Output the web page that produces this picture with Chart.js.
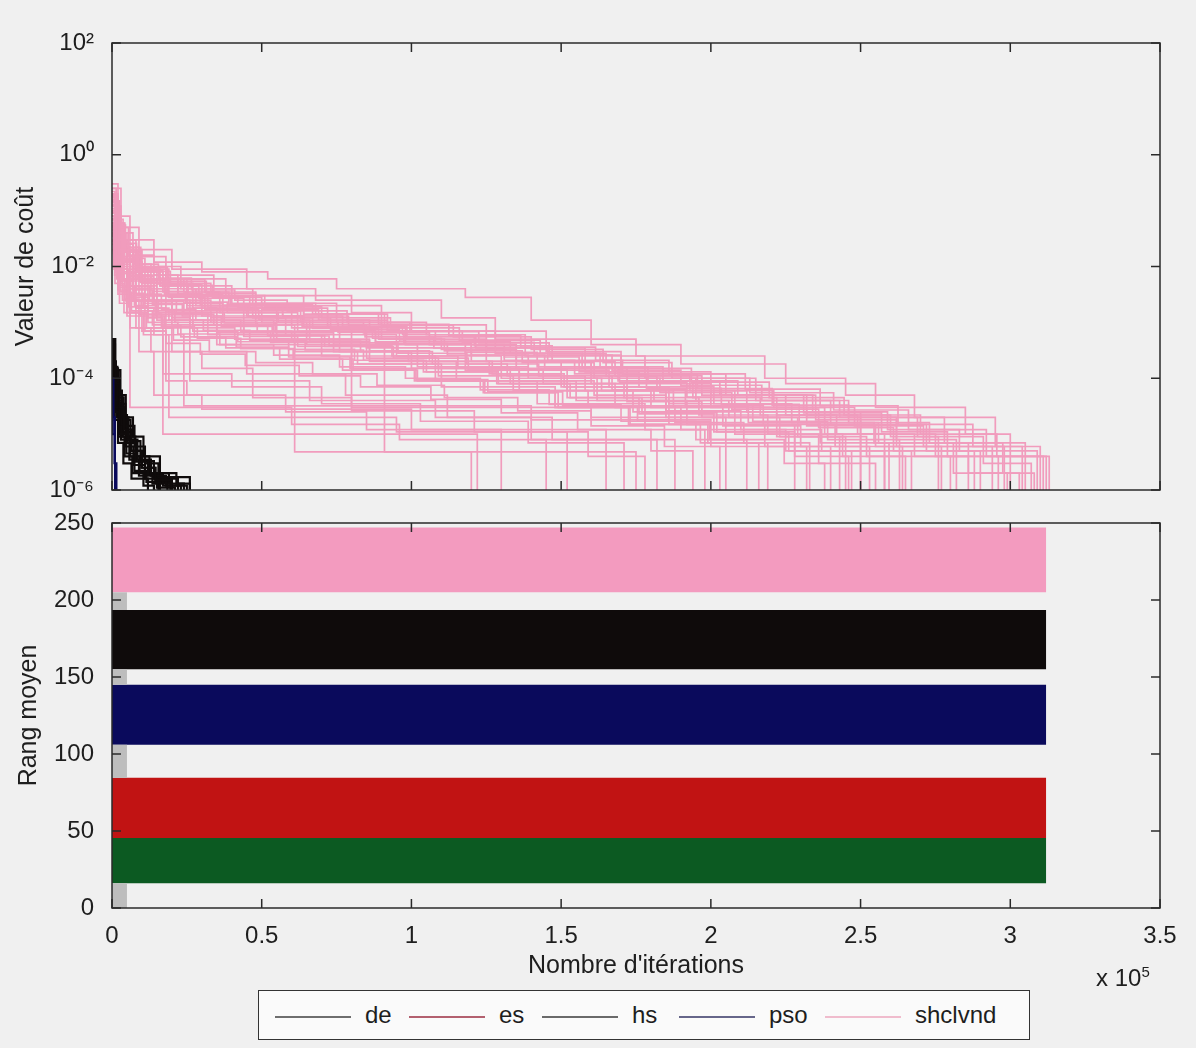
<!DOCTYPE html>
<html>
<head>
<meta charset="utf-8">
<script src="https://cdn.jsdelivr.net/npm/chart.js@4.4.1/dist/chart.umd.min.js"></script>
<style>
body { margin:0; background:#f0f0f0; width:1196px; height:1048px; position:relative; overflow:hidden;
  font-family:'Liberation Sans',Arial,sans-serif; color:#1e1e1e; }
#costChart { position:absolute; left:0; top:0; }
#rankChart { position:absolute; left:0; top:483px; }
#expo { position:absolute; left:1096px; top:963px; font-size:24px; }
#expo sup { font-size:15px; }
#legend { position:absolute; left:258px; top:990px; width:770px; height:48px; border:1.5px solid #333; background:#fafafa; }
.item { position:absolute; top:0; height:48px; line-height:48px; font-size:24px; white-space:nowrap; }
.item i { display:inline-block; width:76px; height:2px; vertical-align:middle; margin-right:14px; }
</style>
</head>
<body>
<canvas id="costChart" width="1196" height="530"></canvas>
<canvas id="rankChart" width="1196" height="512"></canvas>
<div id="expo">x 10<sup>5</sup></div>
<div id="legend"></div>
<script>
// axes
var xTicks = [0, 50000, 100000, 150000, 200000, 250000, 300000, 350000];
var xTickLabels = ['0', '0.5', '1', '1.5', '2', '2.5', '3', '3.5'];
var costTicks = [1e-6, 1e-4, 1e-2, 1, 1e2];
var costTickLabels = ['10\u207B\u2076', '10\u207B\u2074', '10\u207B\u00B2', '10\u2070', '10\u00B2'];
var rankTicks = [0, 50, 100, 150, 200, 250];

// legend
var legendNames = ['de', 'es', 'hs', 'pso', 'shclvnd'];
var legendColors = ['#6e6e6e', '#b3606f', '#6a6a6a', '#66668a', '#f0bccd'];
var legendX = [16, 150, 283, 420, 566];

// cost runs, [iterations, cost]
var shclvndRuns = [
  [[0,0.3],[2000,0.08],[6000,0.03],[14000,0.012],[30000,0.008],[52000,0.006],[75000,0.004],[118000,0.0028],[140000,0.0011],[160000,0.0004],[190000,0.00018],[225000,0.00008],[255000,0.00003],[285000,0.00001],[300000,0.000004],[313000,0.000001]],
  [[0,0.25],[3000,0.05],[9000,0.02],[20000,0.009],[45000,0.004],[68000,0.0025],[110000,0.0012],[128000,0.0005],[175000,0.00025],[218000,0.0001],[245000,0.00005],[268000,0.00002],[295000,0.000006],[310000,0.000001]],
  [[0,0.15],[2500,0.04],[7000,0.015],[18000,0.006],[38000,0.003],[80000,0.0015],[100000,0.0007],[145000,0.0003],[170000,0.00012],[205000,0.00005],[232000,0.00002],[262000,0.000008],[282000,0.000001]],
  [[0,0.12],[1500,0.03],[5000,0.01],[12000,0.004],[28000,0.002],[50000,0.001],[90000,0.0005],[125000,0.0002],[160000,0.00008],[200000,0.00003],[238000,0.00001],[258000,0.000001]],
  [[0,0.09],[2000,0.02],[8000,0.007],[22000,0.003],[42000,0.0018],[72000,0.0008],[98000,0.0004],[135000,0.00015],[172000,0.00006],[212000,0.000025],[250000,0.000001]],
  [[0,0.07],[1000,0.02],[4000,0.006],[15000,0.0025],[33000,0.0012],[58000,0.0006],[95000,0.00025],[130000,0.0001],[162000,0.00004],[192000,0.000015],[228000,0.000001]],
  [[0,0.05],[3000,0.012],[10000,0.005],[25000,0.002],[48000,0.0009],[85000,0.00035],[118000,0.00014],[152000,0.00006],[185000,0.00002],[205000,0.000001]],
  [[0,0.2],[2000,0.03],[6000,0.008],[17000,0.0035],[36000,0.0015],[62000,0.0007],[88000,0.00045],[120000,0.0002],[150000,0.0001],[195000,0.00004],[240000,0.000015],[272000,0.000005],[290000,0.000001]],
  [[0,0.1],[2500,0.025],[7000,0.009],[16000,0.0045],[40000,0.0022],[75000,0.001],[105000,0.0006],[138000,0.00025],[178000,0.0001],[215000,0.00004],[246000,0.00002],[278000,0.000007],[305000,0.000001]],
  [[0,0.06],[1500,0.015],[5000,0.004],[12000,0.0012],[17000,0.00001],[122000,0.000001]],
  [[0,0.04],[2000,0.01],[6000,0.003],[20000,0.0009],[61000,0.0000048],[120000,0.000001]],
  [[0,0.08],[3000,0.02],[9000,0.006],[25000,0.0018],[35000,0.0004],[91000,0.0000048],[175000,0.000001]],
  [[0,0.03],[2000,0.006],[6000,0.00003],[60000,0.000015],[96000,0.000008],[145000,0.000001]],
  [[0,0.15],[1500,0.04],[4000,0.012],[10000,0.005],[27000,0.0018],[60000,0.0008],[80000,0.00003],[160000,0.00002],[250000,0.000001]],
  [[0,0.02],[1000,0.005],[4000,0.0015],[9000,0.0003],[14000,0.00005],[30000,0.000028],[100000,0.000012],[165000,0.000001]],
  [[0,0.1],[2000,0.02],[5000,0.007],[13000,0.003],[30000,0.0013],[55000,0.0005],[80000,0.00018],[110000,0.00007],[148000,0.00003],[190000,0.000012],[225000,0.000005],[267000,0.000001]],
  [[0,0.12],[3000,0.03],[8000,0.01],[23000,0.004],[47000,0.002],[90000,0.0009],[125000,0.00035],[158000,0.00013],[200000,0.00005],[235000,0.000018],[262000,0.000006],[298000,0.000001]],
  [[0,0.05],[1500,0.012],[5000,0.0045],[15000,0.0015],[32000,0.0006],[70000,0.00025],[108000,0.00009],[142000,0.000035],[178000,0.000012],[198000,0.000001]],
  [[0,0.07],[2000,0.018],[6000,0.0055],[14000,0.0022],[37000,0.001],[65000,0.0004],[102000,0.00016],[133000,0.00008],[168000,0.00003],[208000,0.00001],[236000,0.000003],[255000,0.000001]],
  [[0,0.03],[1000,0.008],[3500,0.0025],[8000,0.0008],[20000,0.0003],[45000,0.00012],[78000,0.00005],[112000,0.00002],[140000,0.000008],[182000,0.000001]],
  [[0,0.18],[2000,0.05],[5500,0.016],[14000,0.007],[34000,0.003],[64000,0.0014],[92000,0.0007],[128000,0.00028],[165000,0.00011],[197000,0.00005],[225000,0.000022],[260000,0.000009],[276000,0.000001]],
  [[0,0.09],[1500,0.02],[5000,0.0065],[11000,0.0025],[26000,0.0011],[54000,0.0005],[86000,0.0002],[115000,0.00009],[155000,0.00004],[186000,0.000015],[218000,0.000006],[240000,0.000001]],
  [[0,0.04],[2000,0.009],[5000,0.0025],[11000,0.0007],[18000,0.00009],[25000,0.00005],[58000,0.000025],[85000,0.000012],[130000,0.000001]],
  [[0,0.06],[2500,0.014],[7000,0.004],[18000,0.0016],[44000,0.0007],[76000,0.0003],[100000,0.00015],[136000,0.00006],[174000,0.000025],[222000,0.000009],[243000,0.000001]],
  [[0,0.22],[1000,0.06],[3000,0.025],[7000,0.011],[13000,0.006],[24000,0.0035],[39000,0.0021],[57000,0.0013],[79000,0.0009],[97000,0.0006],[121000,0.00038],[147000,0.0002],[168000,0.00011],[193000,0.00006],[221000,0.00003],[248000,0.000014],[271000,0.000006],[294000,0.000001]],
  [[0,0.11],[1500,0.035],[4000,0.013],[9000,0.0055],[19000,0.0028],[31000,0.0017],[49000,0.0011],[66000,0.0007],[88000,0.00042],[112000,0.00026],[139000,0.00014],[166000,0.00007],[186000,0.000035],[214000,0.000017],[239000,0.000008],[263000,0.000001]],
  [[0,0.05],[800,0.017],[2500,0.006],[6000,0.0028],[12000,0.0016],[21000,0.001],[35000,0.00065],[53000,0.00044],[74000,0.0003],[99000,0.0002],[126000,0.00012],[151000,0.00007],[181000,0.00004],[206000,0.00002],[229000,0.000009],[252000,0.000004],[280000,0.000001]],
  [[0,0.14],[1200,0.045],[3500,0.018],[8000,0.008],[16000,0.0045],[29000,0.0027],[44000,0.0016],[63000,0.001],[84000,0.00065],[106000,0.0004],[131000,0.00024],[156000,0.00013],[176000,0.00007],[201000,0.000035],[227000,0.000016],[256000,0.000007],[286000,0.000002],[303000,0.000001]],
  [[0,0.035],[1000,0.011],[3000,0.0045],[7500,0.002],[15000,0.0011],[27000,0.0007],[42000,0.00045],[61000,0.0003],[82000,0.00018],[109000,0.00011],[134000,0.00006],[159000,0.000032],[188000,0.000016],[211000,0.000007],[233000,0.000001]],
  [[0,0.19],[1800,0.055],[4500,0.02],[10000,0.009],[19000,0.005],[33000,0.003],[51000,0.0019],[70000,0.0012],[93000,0.0008],[116000,0.00048],[143000,0.00028],[163000,0.00016],[184000,0.00009],[209000,0.00005],[234000,0.000025],[259000,0.000012],[283000,0.000005],[309000,0.000001]],
  [[0,0.08],[700,0.025],[2200,0.009],[5500,0.004],[11000,0.0022],[20000,0.0014],[34000,0.0009],[52000,0.00058],[71000,0.00037],[94000,0.00023],[119000,0.00014],[144000,0.00008],[171000,0.000045],[196000,0.000022],[219000,0.00001],[244000,0.000004],[265000,0.000001]],
  [[0,0.028],[900,0.009],[2700,0.0035],[6500,0.0016],[13500,0.0009],[23000,0.00055],[38000,0.00035],[56000,0.00022],[77000,0.00014],[101000,0.00009],[124000,0.000055],[149000,0.00003],[173000,0.000015],[199000,0.000007],[216000,0.000001]],
  [[0,0.16],[1300,0.05],[3800,0.019],[8500,0.0085],[17000,0.0048],[30000,0.0029],[46000,0.0018],[64000,0.0011],[86000,0.0007],[108000,0.00045],[133000,0.00028],[157000,0.00016],[179000,0.00009],[203000,0.00005],[231000,0.000024],[257000,0.000011],[279000,0.000004],[296000,0.000001]],
  [[0,0.045],[1100,0.014],[3200,0.0055],[7000,0.0024],[14500,0.0013],[26000,0.0008],[41000,0.0005],[59000,0.00033],[81000,0.00021],[104000,0.00013],[129000,0.00008],[153000,0.000045],[177000,0.000024],[202000,0.000011],[226000,0.000005],[247000,0.000001]],
  [[0,0.1],[1600,0.03],[4200,0.012],[9500,0.0052],[18500,0.0029],[32000,0.0018],[47000,0.0012],[67000,0.00078],[89000,0.0005],[111000,0.00031],[137000,0.00019],[161000,0.0001],[183000,0.000055],[207000,0.000028],[236000,0.000013],[261000,0.000005],[288000,0.000001]],
  [[0,0.06],[1000,0.018],[3000,0.006],[8000,0.0018],[14000,0.0006],[19000,0.00002],[95000,0.000011],[152000,0.000001]],
  [[0,0.09],[1200,0.025],[3600,0.008],[9000,0.003],[20000,0.0012],[26000,0.00009],[66000,0.00004],[108000,0.00002],[147000,0.000008],[188000,0.000001]],
  [[0,0.025],[900,0.007],[2500,0.0022],[6000,0.0008],[13000,0.0003],[30000,0.00015],[47000,0.000045],[80000,0.000026],[121000,0.000011],[159000,0.000004],[178000,0.000001]],
  [[0,0.13],[2000,0.04],[5000,0.014],[11000,0.006],[22000,0.0032],[37000,0.002],[55000,0.0012],[73000,0.00075],[96000,0.00046],[118000,0.00029],[142000,0.00016],[169000,0.00009],[194000,0.000045],[222000,0.000022],[249000,0.00001],[275000,0.000004],[300000,0.000001]],
  [[0,0.07],[1100,0.02],[3400,0.0075],[8000,0.0032],[16500,0.0017],[28000,0.0011],[43000,0.0007],[60000,0.00046],[83000,0.0003],[107000,0.00018],[132000,0.00011],[158000,0.00006],[180000,0.00003],[204000,0.000014],[230000,0.000006],[253000,0.000001]],
  [[0,0.2],[1500,0.06],[4000,0.022],[9000,0.01],[18000,0.0058],[31000,0.0035],[48000,0.0022],[68000,0.0014],[91000,0.00088],[114000,0.00055],[140000,0.00033],[164000,0.00019],[187000,0.0001],[213000,0.000055],[241000,0.000027],[266000,0.000012],[292000,0.000004],[312000,0.000001]],
  [[0,0.038],[800,0.012],[2300,0.0042],[5500,0.0019],[12000,0.001],[22000,0.00062],[36000,0.0004],[54000,0.00026],[76000,0.00016],[98000,0.0001],[123000,0.000062],[146000,0.000034],[170000,0.000017],[195000,0.000008],[212000,0.000001]],
  [[0,0.12],[1400,0.035],[3900,0.013],[8800,0.0058],[17500,0.0032],[29500,0.002],[45000,0.0013],[64000,0.00082],[87000,0.00052],[110000,0.00033],[135000,0.0002],[160000,0.00011],[182000,0.00006],[208000,0.00003],[232000,0.000014],[255000,0.000006],[277000,0.000001]],
  [[0,0.055],[1000,0.016],[3000,0.0058],[7200,0.0025],[15500,0.0014],[27000,0.00088],[44000,0.00056],[62000,0.00037],[85000,0.00023],[109000,0.00015],[136000,0.00009],[161000,0.00005],[185000,0.000026],[210000,0.000012],[237000,0.000005],[258000,0.000001]],
  [[0,0.17],[1700,0.05],[4400,0.018],[9800,0.0082],[19500,0.0046],[33500,0.0028],[50000,0.0017],[69000,0.0011],[92000,0.0007],[117000,0.00044],[141000,0.00026],[167000,0.00014],[190000,0.000075],[217000,0.00004],[243000,0.00002],[269000,0.000009],[291000,0.000003],[307000,0.000001]],
  [[0,0.03],[600,0.01],[2000,0.0038],[5000,0.0015],[10500,0.0006],[17000,0.00012],[40000,0.00007],[70000,0.000035],[103000,0.000017],[139000,0.000007],[171000,0.000001]],
  [[0,0.1],[900,0.03],[2600,0.011],[6200,0.0045],[12500,0.0024],[21500,0.0015],[33000,0.001],[48500,0.00068],[66000,0.00046],[86000,0.00031],[106000,0.0002],[127000,0.00012],[150000,0.00007],[172000,0.000038],[197000,0.00002],[223000,0.000009],[245000,0.000001]],
  [[0,0.06],[700,0.02],[2100,0.0075],[5200,0.0033],[10500,0.0018],[19000,0.0011],[30500,0.00072],[46000,0.00048],[64500,0.00032],[84000,0.00021],[105000,0.00013],[128500,0.00008],[152000,0.000045],[176000,0.000023],[201000,0.000011],[228000,0.000004],[246000,0.000001]],
  [[0,0.14],[1100,0.042],[3100,0.015],[7300,0.0065],[14000,0.0036],[24500,0.0023],[38500,0.0015],[55500,0.001],[75500,0.00066],[97500,0.00042],[120000,0.00026],[144500,0.00015],[169500,0.000085],[192000,0.000046],[216500,0.000022],[242000,0.00001],[268000,0.000004],[286000,0.000001]],
  [[0,0.045],[600,0.015],[1900,0.0055],[4700,0.0024],[9700,0.0013],[17500,0.0008],[28500,0.00052],[43000,0.00034],[60500,0.00022],[80500,0.00014],[102000,0.00009],[124500,0.000055],[148000,0.00003],[172500,0.000015],[196500,0.000007],[219000,0.000001]],
  [[0,0.25],[1400,0.07],[3700,0.026],[8200,0.011],[15500,0.0062],[26500,0.0038],[41000,0.0025],[58500,0.0016],[78500,0.001],[99500,0.00068],[122500,0.00043],[146000,0.00026],[170000,0.00015],[193500,0.000085],[219500,0.000045],[244500,0.000022],[270000,0.00001],[295500,0.000004],[311000,0.000001]],
  [[0,0.08],[1000,0.024],[2900,0.009],[6800,0.0038],[13500,0.0021],[23500,0.0013],[36500,0.00085],[53500,0.00057],[72500,0.00038],[93500,0.00025],[115500,0.00016],[139000,0.0001],[163500,0.00006],[187500,0.000032],[212500,0.000016],[236500,0.000007],[259500,0.000001]],
  [[0,0.035],[800,0.01],[2400,0.0036],[5800,0.0015],[11500,0.0008],[20500,0.00048],[32500,0.0003],[48000,0.00019],[67000,0.00012],[88500,0.000075],[111000,0.000045],[135500,0.000026],[160000,0.000014],[184500,0.000006],[203000,0.000001]],
  [[0,0.18],[1200,0.055],[3300,0.02],[7700,0.0086],[15000,0.0049],[25500,0.003],[39500,0.002],[57000,0.0013],[77000,0.00085],[98500,0.00055],[121500,0.00035],[145500,0.00021],[170500,0.00012],[195500,0.000065],[220500,0.000033],[246000,0.000016],[273000,0.000007],[297500,0.000002],[308000,0.000001]],
  [[0,0.05],[500,0.017],[1600,0.006],[4300,0.0026],[9000,0.0014],[16500,0.00085],[27500,0.00055],[41500,0.00036],[59000,0.00024],[79500,0.00015],[101500,0.000095],[125500,0.000057],[150500,0.000032],[175500,0.000017],[199500,0.000008],[224500,0.000003],[238000,0.000001]],
  [[0,0.07],[1300,0.02],[4000,0.006],[10000,0.0018],[18000,0.0006],[24000,0.000032],[140000,0.000018],[200000,0.000006],[232000,0.000001]],
  [[0,0.12],[1500,0.036],[4100,0.013],[9300,0.0057],[18000,0.0032],[30000,0.002],[45500,0.0013],[63500,0.00085],[84500,0.00055],[107500,0.00035],[131000,0.00021],[154500,0.00012],[178500,0.000066],[203500,0.000034],[229500,0.000016],[254500,0.000007],[281000,0.000002],[299000,0.000001]],
  [[0,0.03],[700,0.009],[2000,0.0032],[5000,0.0013],[10000,0.0007],[18000,0.00042],[29500,0.00027],[44500,0.00017],[62500,0.00011],[83000,0.00007],[106500,0.000042],[130000,0.000024],[155500,0.000012],[180000,0.000005],[194000,0.000001]],
  [[0,0.09],[1000,0.027],[3000,0.01],[7000,0.0043],[14000,0.0024],[24000,0.0015],[37500,0.00098],[54500,0.00065],[74000,0.00043],[95500,0.00028],[118500,0.00018],[142500,0.00011],[167000,0.000062],[191500,0.000032],[217500,0.000015],[241500,0.000006],[264000,0.000001]],
  [[0,0.2],[1600,0.06],[4300,0.022],[9600,0.0095],[18500,0.0054],[31500,0.0033],[48000,0.0021],[67000,0.0014],[89000,0.00092],[112500,0.00058],[136500,0.00036],[161500,0.00021],[186000,0.00012],[211500,0.000064],[236500,0.000032],[262500,0.000015],[287500,0.000006],[304000,0.000001]]
];
var hsRuns = [
  [[0,0.0005],[500,0.0002],[1300,0.00008],[2500,0.00003],[4000,0.000012],[6500,0.000005],[10000,0.0000025],[14500,0.0000015],[20000,0.000001]],
  [[0,0.00045],[800,0.00015],[2000,0.00005],[3500,0.00002],[5500,0.000008],[8500,0.0000035],[13000,0.0000018],[18000,0.0000012],[25000,0.000001]],
  [[0,0.0004],[1000,0.0001],[2500,0.000035],[4500,0.000014],[7500,0.000006],[11000,0.000003],[15500,0.0000017],[26000,0.000001]],
  [[0,0.00035],[600,0.00012],[1700,0.00004],[3200,0.000015],[5200,0.000007],[8000,0.0000032],[12000,0.0000019],[17000,0.0000012],[23000,0.000001]],
  [[0,0.0003],[400,0.0001],[1200,0.00003],[2600,0.00001],[4800,0.0000045],[7500,0.0000022],[11500,0.0000014],[16000,0.000001]],
  [[0,0.00048],[700,0.00016],[1800,0.00006],[3300,0.000022],[5000,0.000009],[7800,0.000004],[12500,0.000002],[19000,0.0000013],[24000,0.000001]],
  [[0,0.00025],[300,0.00008],[1000,0.000025],[2200,0.000009],[4200,0.000004],[6800,0.000002],[10500,0.0000012],[14000,0.000001]],
  [[0,0.0002],[500,0.00006],[1500,0.00002],[3000,0.000008],[5800,0.0000035],[9000,0.0000018],[15000,0.0000011],[21000,0.000001]],
  [[0,0.00042],[900,0.00013],[2200,0.000045],[3900,0.000018],[6200,0.0000075],[9500,0.0000033],[14000,0.0000016],[22000,0.000001]],
  [[0,0.00038],[400,0.00013],[1100,0.00005],[2000,0.00002],[3600,0.000009],[6000,0.000004],[9200,0.000002],[13500,0.0000013],[18500,0.000001]],
  [[0,0.00015],[300,0.00005],[900,0.000018],[2000,0.000007],[3800,0.000003],[6500,0.0000016],[12000,0.000001]],
  [[0,0.0005],[1100,0.00014],[2800,0.00005],[4600,0.00002],[7000,0.000009],[10500,0.000004],[16000,0.000002],[21500,0.0000013],[26000,0.000001]],
  [[0,0.00032],[600,0.0001],[1600,0.000036],[2900,0.000014],[4600,0.000006],[7200,0.0000028],[11000,0.0000016],[15500,0.000001]],
  [[0,0.00028],[800,0.00008],[2100,0.000028],[3700,0.000011],[6100,0.000005],[9800,0.0000025],[14500,0.0000014],[19500,0.000001]]
];
var psoRuns = [
  [[0,0.00005],[300,0.00001],[800,0.000003],[1500,0.000001]],
  [[0,0.0001],[500,0.00002],[1000,0.000001]]
];

// rank bands (low / high edge of each band)
var rankBandNames = ['shclvnd', 'hs', 'pso', 'es', 'de'];
var rankBandLow = [205, 155, 106, 45.5, 16];
var rankBandHigh = [247, 193.5, 145, 84.5, 45.5];
var rankBandColors = ['#f39bbf', '#0f0b0b', '#0a0a5c', '#c11313', '#0c5a22'];
var rankBandEnd = 312000;
var startStripeLow = [0, 84.5, 145, 193.5];
var startStripeHigh = [16, 106, 155, 205];
var startStripeEnd = 5000;

Chart.defaults.font.family = "'Liberation Sans', Arial, sans-serif";
Chart.defaults.font.size = 24;
Chart.defaults.color = '#1e1e1e';
Chart.defaults.animation = false;

// matlab like box with ticks pointing inward
var boxTicks = {
  id: 'boxTicks',
  afterDatasetsDraw: function(chart, args, opts) {
    var ctx = chart.ctx, a = chart.chartArea;
    var sx = chart.scales.x, sy = chart.scales.y;
    ctx.save();
    ctx.strokeStyle = '#2a2a2a';
    ctx.lineWidth = 1.5;
    ctx.beginPath();
    opts.xs.forEach(function(v) {
      var p = sx.getPixelForValue(v);
      ctx.moveTo(p, a.bottom); ctx.lineTo(p, a.bottom - 9);
      ctx.moveTo(p, a.top); ctx.lineTo(p, a.top + 9);
    });
    opts.ys.forEach(function(v) {
      var p = sy.getPixelForValue(v);
      ctx.moveTo(a.left, p); ctx.lineTo(a.left + 9, p);
      ctx.moveTo(a.right, p); ctx.lineTo(a.right - 9, p);
    });
    ctx.stroke();
    ctx.strokeRect(a.left, a.top, a.right - a.left, a.bottom - a.top);
    ctx.restore();
  }
};

function runSet(run, color, width) {
  return {
    data: run.map(function(p) { return {x: p[0], y: p[1]}; }),
    borderColor: color,
    borderWidth: width,
    pointRadius: 0,
    stepped: 'before',
    fill: false
  };
}

var costSets = [];
psoRuns.forEach(function(r) { costSets.push(runSet(r, '#0a0a5c', 2)); });
hsRuns.forEach(function(r) { costSets.push(runSet(r, '#0f0b0b', 2.2)); });
shclvndRuns.forEach(function(r) { costSets.push(runSet(r, '#f19cbd', 1.7)); });

new Chart(document.getElementById('costChart'), {
  type: 'line',
  data: { datasets: costSets },
  options: {
    responsive: false,
    layout: { padding: { top: 43, bottom: 40, right: 36, left: 0 } },
    plugins: { legend: { display: false }, tooltip: { enabled: false },
      boxTicks: { xs: xTicks, ys: costTicks } },
    scales: {
      x: {
        type: 'linear', min: 0, max: 350000,
        grid: { display: false }, border: { display: false },
        ticks: { display: false },
        afterFit: function(s) { s.height = 0; }
      },
      y: {
        type: 'logarithmic', min: 1e-6, max: 1e2,
        grid: { display: false }, border: { display: false },
        afterBuildTicks: function(s) { s.ticks = costTicks.map(function(v) { return {value: v}; }); },
        ticks: { padding: 10, callback: function(v) { return costTickLabels[costTicks.indexOf(v)]; } },
        title: { display: true, text: 'Valeur de coût', font: { size: 25 }, padding: { top: 11, bottom: 0 } },
        afterFit: function(s) { s.width = 112; }
      }
    }
  },
  plugins: [boxTicks]
});

var rankSets = [];
function band(low, high, end, color) {
  rankSets.push({ data: [{x: 0, y: low}, {x: end, y: low}], borderWidth: 0, pointRadius: 0, fill: false });
  rankSets.push({ data: [{x: 0, y: high}, {x: end, y: high}], borderWidth: 0, pointRadius: 0,
    backgroundColor: color, fill: '-1' });
}
startStripeLow.forEach(function(l, i) { band(l, startStripeHigh[i], startStripeEnd, '#bdbdbd'); });
rankBandNames.forEach(function(n, i) { band(rankBandLow[i], rankBandHigh[i], rankBandEnd, rankBandColors[i]); });

new Chart(document.getElementById('rankChart'), {
  type: 'line',
  data: { datasets: rankSets },
  options: {
    responsive: false,
    layout: { padding: { top: 40, bottom: 10, right: 36, left: 0 } },
    plugins: { legend: { display: false }, tooltip: { enabled: false },
      boxTicks: { xs: xTicks, ys: rankTicks } },
    scales: {
      x: {
        type: 'linear', min: 0, max: 350000,
        grid: { display: false }, border: { display: false },
        afterBuildTicks: function(s) { s.ticks = xTicks.map(function(v) { return {value: v}; }); },
        ticks: { padding: 6, maxRotation: 0, callback: function(v) { return xTickLabels[xTicks.indexOf(v)]; } },
        title: { display: true, text: "Nombre d'itérations", font: { size: 25 } },
        afterFit: function(s) { s.height = 77; }
      },
      y: {
        min: 0, max: 250,
        grid: { display: false }, border: { display: false },
        afterBuildTicks: function(s) { s.ticks = rankTicks.map(function(v) { return {value: v}; }); },
        ticks: { padding: 10 },
        title: { display: true, text: 'Rang moyen', font: { size: 25 }, padding: { top: 14, bottom: 0 } },
        afterFit: function(s) { s.width = 112; }
      }
    }
  },
  plugins: [boxTicks]
});

// shared legend box
var lg = document.getElementById('legend');
legendNames.forEach(function(n, i) {
  var d = document.createElement('div');
  d.className = 'item';
  d.style.left = legendX[i] + 'px';
  d.innerHTML = '<i style="background:' + legendColors[i] + '"></i>' + n;
  lg.appendChild(d);
});
</script>
</body>
</html>
